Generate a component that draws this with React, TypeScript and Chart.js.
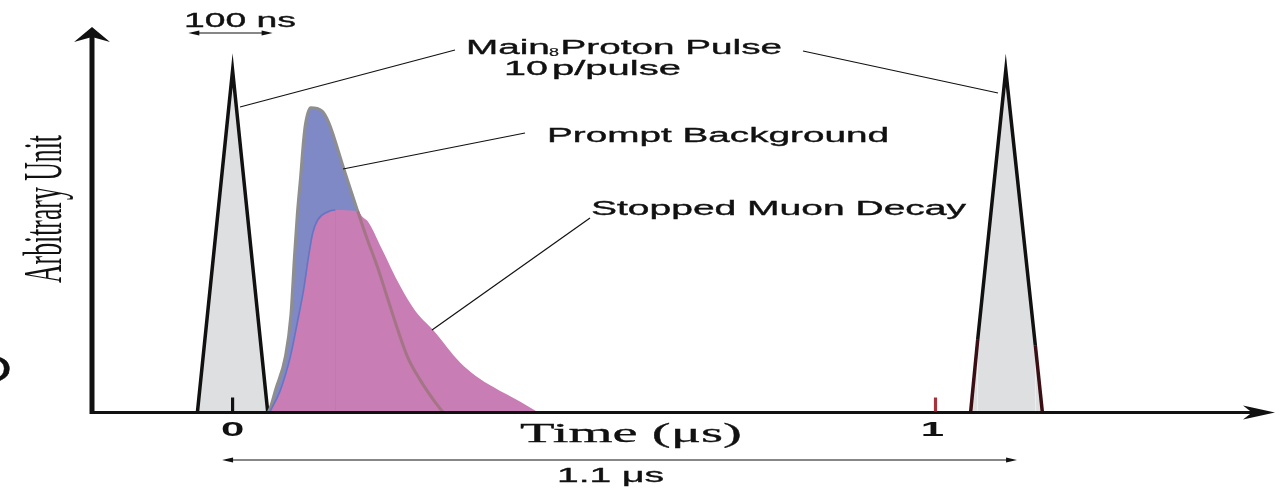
import React, { useEffect, useRef } from "react";
import { Chart, registerables } from "chart.js";

Chart.register(...registerables);

// ---- data (time in μs, intensity in arbitrary units) ----
const xTickValues = [0, 1];
const xTickLabels = ["0", "1"];

const pulse1X = [-0.05, 0, 0.05];
const pulse1Y = [0, 89, 0];

const pulse2X = [1.05, 1.06, 1.1, 1.142, 1.152];
const pulse2Y = [0, 18.8, 89, 17.4, 0];

const promptX = [0.051, 0.054, 0.061, 0.075, 0.083, 0.088, 0.092, 0.097, 0.101, 0.104, 0.111, 0.127, 0.137, 0.158, 0.178, 0.192, 0.206, 0.22, 0.235, 0.249, 0.267, 0.286, 0.299];
const promptY = [0, 1.3, 5.7, 14.3, 25.3, 40.4, 51.3, 61.7, 70.8, 75.3, 79.2, 78.4, 75.3, 63.5, 52.3, 44.8, 37.8, 29.9, 21.4, 14.3, 8.3, 3.1, 0];

const muonX = [0.053, 0.068, 0.082, 0.092, 0.101, 0.108, 0.114, 0.121, 0.135, 0.146, 0.178, 0.185, 0.193, 0.211, 0.239, 0.26, 0.285, 0.324, 0.346, 0.371, 0.41, 0.434];
const muonY = [0, 5.7, 14.3, 23.2, 31.8, 40.4, 46.6, 50.0, 52.1, 52.6, 52.3, 50.8, 49.5, 43.0, 32.6, 26.3, 21.4, 12.8, 9.4, 6.5, 2.6, 0];

const zip = (xs: number[], ys: number[]) => xs.map((x, i) => ({ x, y: ys[i] }));

const SANS = '"Liberation Sans", Arial, sans-serif';
const SERIF = '"Liberation Serif", "Times New Roman", serif';

function stretchText(ctx: CanvasRenderingContext2D, text: string, x: number, y: number, font: string, width: number, stroke = 0.35) {
  ctx.save();
  ctx.font = font;
  const w = ctx.measureText(text).width;
  ctx.translate(x, y);
  ctx.scale(width / w, 1);
  ctx.textAlign = "left";
  ctx.textBaseline = "alphabetic";
  ctx.fillText(text, 0, 0);
  if (stroke > 0) {
    ctx.strokeStyle = "#111";
    ctx.lineWidth = stroke;
    ctx.strokeText(text, 0, 0);
  }
  ctx.restore();
}

function line(ctx: CanvasRenderingContext2D, x1: number, y1: number, x2: number, y2: number, w: number, color = "#111") {
  ctx.save();
  ctx.strokeStyle = color;
  ctx.lineWidth = w;
  ctx.beginPath();
  ctx.moveTo(x1, y1);
  ctx.lineTo(x2, y2);
  ctx.stroke();
  ctx.restore();
}

function dimArrow(ctx: CanvasRenderingContext2D, x1: number, x2: number, y: number) {
  line(ctx, x1 + 4, y, x2 - 4, y, 1.2);
  ctx.save();
  ctx.fillStyle = "#111";
  ctx.beginPath();
  ctx.moveTo(x1, y);
  ctx.lineTo(x1 + 11, y - 2.5);
  ctx.lineTo(x1 + 11, y + 2.5);
  ctx.closePath();
  ctx.fill();
  ctx.beginPath();
  ctx.moveTo(x2, y);
  ctx.lineTo(x2 - 11, y - 2.5);
  ctx.lineTo(x2 - 11, y + 2.5);
  ctx.closePath();
  ctx.fill();
  ctx.restore();
}

const diagramPlugin = {
  id: "diagram",
  afterDraw(chart: any) {
    const ctx: CanvasRenderingContext2D = chart.ctx;
    const xs = chart.scales.x;
    const ys = chart.scales.y;
    const px = (v: number) => xs.getPixelForValue(v);
    const py = (v: number) => ys.getPixelForValue(v);
    const ca = chart.chartArea;
    const y0 = py(0) + 0.5;
    const ax = ca.left;

    ctx.save();
    ctx.fillStyle = "#111";

    // x axis
    line(ctx, ax - 2, y0, ca.right - 20, y0, 3.2);
    ctx.beginPath();
    ctx.moveTo(ca.right, y0);
    ctx.lineTo(ca.right - 32, y0 - 7);
    ctx.lineTo(ca.right - 23, y0);
    ctx.lineTo(ca.right - 32, y0 + 7);
    ctx.closePath();
    ctx.fill();

    // y axis
    line(ctx, ax, y0 + 1.6, ax, ca.top + 8, 5);
    ctx.beginPath();
    ctx.moveTo(ax, ca.top - 1);
    ctx.lineTo(ax - 18, ca.top + 14);
    ctx.lineTo(ax, ca.top + 9);
    ctx.lineTo(ax + 18, ca.top + 14);
    ctx.closePath();
    ctx.fill();

    // ticks & tick labels
    const tickColors = ["#111", "#a8323c"];
    xTickValues.forEach((v, i) => {
      const x = px(v);
      line(ctx, x, y0 - 1, x, y0 - 15, 3.2, tickColors[i]);
      ctx.save();
      ctx.font = `bold 20px ${SANS}`;
      ctx.fillStyle = "#111";
      ctx.translate(x - (i === 1 ? 3 : 0), y0 + 23);
      ctx.scale(2.1, 1);
      ctx.textAlign = "center";
      ctx.fillText(xTickLabels[i], 0, 0);
      ctx.restore();
    });

    // leader lines
    line(ctx, 240, 107, 455, 50, 1.2);
    line(ctx, 803, 51, 998, 93, 1.2);
    line(ctx, 343, 169, 525, 133, 1.2);
    line(ctx, 432, 330, 590, 218, 1.2);

    // dimension arrows
    dimArrow(ctx, px(-0.063), px(0.057), 33);
    dimArrow(ctx, px(-0.015), px(1.116), 460);

    // texts
    ctx.fillStyle = "#111";
    stretchText(ctx, "100 ns", 184, 27, `20px ${SANS}`, 112);
    stretchText(ctx, "Main Proton Pulse", 466, 54, `20px ${SANS}`, 316);
    stretchText(ctx, "8", 549, 56, `11px ${SANS}`, 10, 0.2);
    stretchText(ctx, "10", 504, 75, `20px ${SANS}`, 44);
    stretchText(ctx, "p/pulse", 552, 75, `20px ${SANS}`, 129);
    stretchText(ctx, "Prompt Background", 547, 142, `20px ${SANS}`, 342);
    stretchText(ctx, "Stopped Muon Decay", 591, 215, `20px ${SANS}`, 375);
    stretchText(ctx, "Time (\u03bcs)", 520, 442, `28px ${SERIF}`, 222, 0.3);
    stretchText(ctx, "1.1 \u03bcs", 557, 482, `20px ${SANS}`, 107);
    stretchText(ctx, "D", -28, 382, `37px ${SANS}`, 40);

    // rotated y label
    ctx.save();
    ctx.translate(61, 283);
    ctx.rotate(-Math.PI / 2);
    ctx.font = `54px ${SERIF}`;
    const w = ctx.measureText("Arbitrary Unit").width;
    ctx.scale(148 / w, 1);
    ctx.fillText("Arbitrary Unit", 0, 0);
    ctx.restore();

    ctx.restore();
  },
};

export default function App() {
  const ref = useRef<HTMLCanvasElement | null>(null);

  useEffect(() => {
    if (!ref.current) return;
    const chart = new Chart(ref.current, {
      type: "line",
      data: {
        datasets: [
          {
            label: "Prompt outline",
            data: zip(promptX, promptY),
            borderColor: "rgba(0,0,0,0)",
            borderWidth: 3,
            fill: false,
            pointRadius: 0,
            cubicInterpolationMode: "monotone",
            segment: {
              borderColor: (c: any) => (c.p0DataIndex >= 14 ? "rgba(140,112,100,0.6)" : "rgba(0,0,0,0)"),
            },
            order: 0,
          },
          {
            label: "Stopped Muon Decay",
            data: zip(muonX, muonY),
            backgroundColor: "#c87db5",
            borderWidth: 1.6,
            borderColor: "#6674c4",
            fill: "origin",
            pointRadius: 0,
            cubicInterpolationMode: "monotone",
            segment: {
              borderColor: (c: any) => (c.p0DataIndex < 9 ? "#6674c4" : "rgba(0,0,0,0)"),
            },
            order: 1,
          },
          {
            label: "Prompt Background",
            data: zip(promptX, promptY),
            backgroundColor: "#7f89c6",
            borderColor: "#8e8e8e",
            borderWidth: 3,
            fill: "origin",
            pointRadius: 0,
            cubicInterpolationMode: "monotone",
            order: 2,
          },
          {
            label: "Pulse 2",
            data: zip(pulse2X, pulse2Y),
            backgroundColor: "#dedfe1",
            borderColor: "#111",
            borderWidth: 3.5,
            fill: "origin",
            pointRadius: 0,
            tension: 0,
            segment: {
              borderColor: (c: any) => (c.p0DataIndex === 0 || c.p0DataIndex === 3 ? "#3a0e12" : "#111"),
            },
            order: 3,
          },
          {
            label: "Pulse 1",
            data: zip(pulse1X, pulse1Y),
            backgroundColor: "#dedfe1",
            borderColor: "#111",
            borderWidth: 3.5,
            fill: "origin",
            pointRadius: 0,
            tension: 0,
            order: 4,
          },
        ],
      },
      options: {
        animation: false,
        responsive: false,
        maintainAspectRatio: false,
        layout: { padding: { left: 92, right: 8, top: 28, bottom: 79 } },
        plugins: { legend: { display: false }, tooltip: { enabled: false } },
        events: [],
        scales: {
          x: { type: "linear", min: -0.2, max: 1.483, display: false },
          y: { type: "linear", min: 0, max: 100, display: false },
        },
      },
      plugins: [diagramPlugin],
    } as any);
    return () => chart.destroy();
  }, []);

  return (
    <div style={{ position: "absolute", left: 0, top: 0, width: 1283, height: 491, background: "#fff" }}>
      <canvas ref={ref} width={1283} height={491} style={{ width: 1283, height: 491, display: "block" }} />
    </div>
  );
}
